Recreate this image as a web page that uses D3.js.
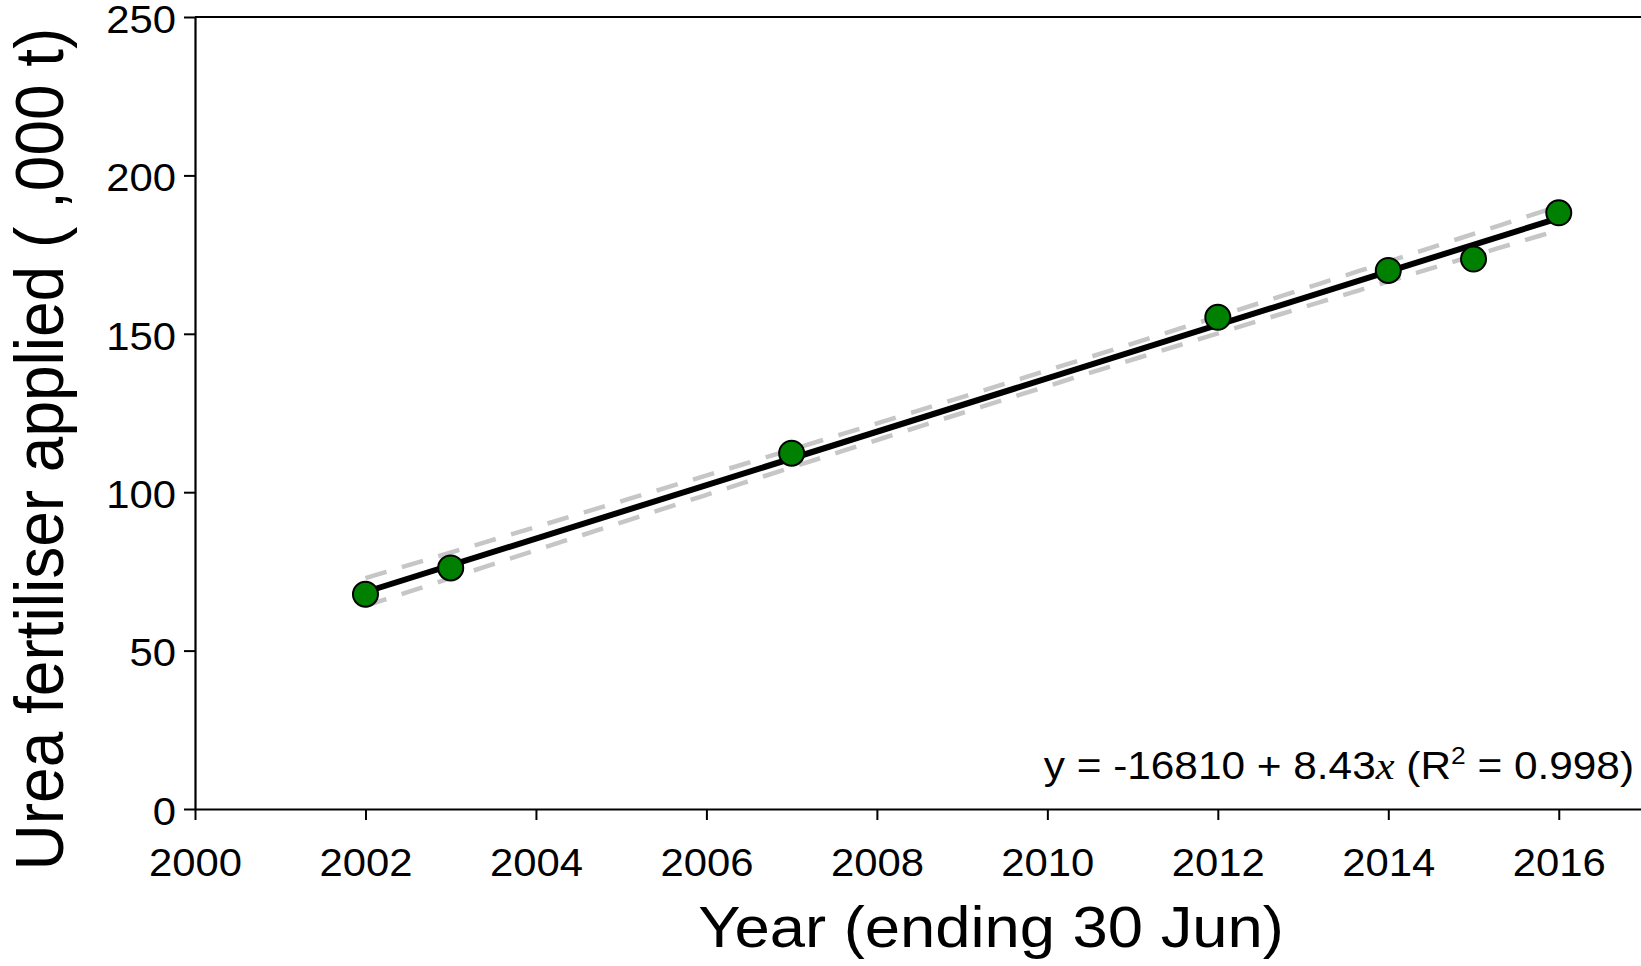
<!DOCTYPE html>
<html>
<head>
<meta charset="utf-8">
<script src="https://cdn.jsdelivr.net/npm/d3@7"></script>
<style>
  html, body { margin: 0; padding: 0; background: #fff; }
  svg { display: block; font-family: "Liberation Sans", Arial, sans-serif; }
</style>
</head>
<body>
<svg id="chart" width="1641" height="966"></svg>
<script>
// Urea fertiliser applied per year ending 30 June (thousand tonnes)
const years = [2002, 2003, 2007, 2012, 2014, 2015, 2016];
const urea = [67.8, 76.1, 112.3, 155.2, 170.0, 173.6, 188.2];

const xTicks = [2000, 2002, 2004, 2006, 2008, 2010, 2012, 2014, 2016];
const yTicks = [0, 50, 100, 150, 200, 250];
const xDomain = [2000, 2017];
const yDomain = [0, 250];

const xTitle = "Year (ending 30 Jun)";
const yTitle = "Urea fertiliser applied ( ,000 t)";

const W = 1641, H = 966;
const margin = { left: 195, right: -3, top: 17, bottom: 157 };
const textStretch = 1.1;

const svg = d3.select("#chart");

const x = d3.scaleLinear().domain(xDomain).range([margin.left, W - margin.right]);
const y = d3.scaleLinear().domain(yDomain).range([H - margin.bottom, margin.top]);

// ---- ordinary least squares fit with 95% confidence band ----
const pts = years.map((yr, i) => ({ x: yr, y: urea[i] }));
const n = pts.length;
const mx = d3.mean(pts, d => d.x);
const my = d3.mean(pts, d => d.y);
const sxx = d3.sum(pts, d => (d.x - mx) ** 2);
const sxy = d3.sum(pts, d => (d.x - mx) * (d.y - my));
const slope = sxy / sxx;
const intercept = my - slope * mx;
const fitAt = t => intercept + slope * t;
const sse = d3.sum(pts, d => (d.y - fitAt(d.x)) ** 2);
const sst = d3.sum(pts, d => (d.y - my) ** 2);
const r2 = 1 - sse / sst;
const s = Math.sqrt(sse / (n - 2));
const tCrit = 2.5706; // t(0.975, df = 5)
const halfWidth = t => tCrit * s * Math.sqrt(1 / n + (t - mx) ** 2 / sxx);

const [x0, x1] = d3.extent(years);
const bandXs = d3.range(0, 61).map(i => x0 + (x1 - x0) * i / 60);

const lineGen = d3.line().x(d => x(d[0])).y(d => y(d[1]));

// confidence band (dashed grey)
const band = svg.append("g")
  .attr("fill", "none")
  .attr("stroke", "#c6c6c6")
  .attr("stroke-width", 4.5)
  .attr("stroke-dasharray", "22,16");
band.append("path").attr("d", lineGen(bandXs.map(t => [t, fitAt(t) + halfWidth(t)])));
band.append("path").attr("d", lineGen(bandXs.map(t => [t, fitAt(t) - halfWidth(t)])));

// fitted line
svg.append("path")
  .attr("fill", "none")
  .attr("stroke", "#000")
  .attr("stroke-width", 6)
  .attr("d", lineGen([[x0, fitAt(x0)], [x1, fitAt(x1)]]));

// observations
svg.append("g").selectAll("circle")
  .data(pts)
  .join("circle")
  .attr("cx", d => x(d.x))
  .attr("cy", d => y(d.y))
  .attr("r", 12.5)
  .attr("fill", "#008000")
  .attr("stroke", "#000")
  .attr("stroke-width", 2);

// ---- axes ----
const tickFont = 38;

const yAxis = svg.append("g")
  .attr("transform", `translate(${margin.left},0)`)
  .call(d3.axisLeft(y).tickValues(yTicks).tickFormat(d3.format("d")).tickSize(11).tickSizeOuter(0));
yAxis.select(".domain").attr("stroke-width", 2.2);
yAxis.selectAll(".tick line").attr("stroke-width", 2);
yAxis.selectAll(".tick text")
  .attr("font-size", tickFont)
  .attr("fill", "#000")
  .attr("x", -19 / textStretch)
  .attr("dy", "0.4em")
  .attr("transform", `scale(${textStretch},1)`);

const xAxis = svg.append("g")
  .attr("transform", `translate(0,${H - margin.bottom})`)
  .call(d3.axisBottom(x).tickValues(xTicks).tickFormat(d3.format("d")).tickSize(11).tickSizeOuter(0));
xAxis.select(".domain").attr("stroke-width", 2.2);
xAxis.selectAll(".tick line").attr("stroke-width", 2);
xAxis.selectAll(".tick text")
  .attr("font-size", tickFont)
  .attr("fill", "#000")
  .attr("y", 40)
  .attr("dy", "0.71em")
  .attr("transform", `scale(${textStretch},1)`);

// top frame line
svg.append("line")
  .attr("x1", x(xDomain[0])).attr("x2", x(xDomain[1]))
  .attr("y1", y(yDomain[1])).attr("y2", y(yDomain[1]))
  .attr("stroke", "#000").attr("stroke-width", 2.2);

// ---- titles ----
svg.append("text")
  .attr("transform", `translate(991,947) scale(${textStretch},1)`)
  .attr("text-anchor", "middle")
  .attr("font-size", 57.6)
  .attr("fill", "#000")
  .text(xTitle);

svg.append("text")
  .attr("transform", "translate(63,449) rotate(-90) scale(1,1.08)")
  .attr("text-anchor", "middle")
  .attr("font-size", 64)
  .attr("fill", "#000")
  .text(yTitle);

// ---- regression equation ----
const fmt = d3.formatLocale({ decimal: ".", thousands: ",", grouping: [3], currency: ["", ""], minus: "-" });
const eq = svg.append("text")
  .attr("transform", `translate(1634,779) scale(${textStretch},1)`)
  .attr("text-anchor", "end")
  .attr("font-size", 38.5)
  .attr("fill", "#000");
eq.append("tspan").text(`y = ${fmt.format(".4r")(intercept)} + ${fmt.format(".2f")(slope)}`);
eq.append("tspan").attr("font-family", "'Liberation Serif', 'Times New Roman', serif").attr("font-style", "italic").text("x");
eq.append("tspan").text(" (R");
eq.append("tspan").attr("font-size", 24).attr("dy", -15).text("2");
eq.append("tspan").attr("dy", 15).text(` = ${fmt.format(".3f")(r2)})`);
</script>
</body>
</html>
